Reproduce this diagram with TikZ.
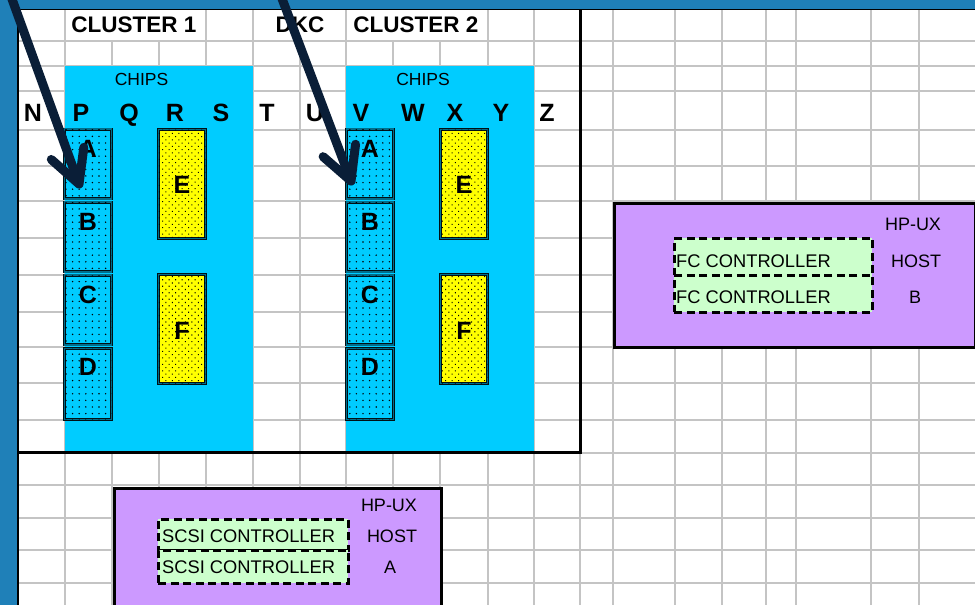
\documentclass[tikz,border=0pt]{standalone}
\usepackage{fontspec}
\setmainfont{Liberation Sans}
\usetikzlibrary{patterns.meta}
\definecolor{bandblue}{RGB}{31,128,184}
\definecolor{gridgray}{RGB}{196,196,196}
\definecolor{cyanbg}{RGB}{0,204,255}
\definecolor{chipyel}{RGB}{255,255,0}
\definecolor{chipedge}{RGB}{0,110,140}
\definecolor{hostpurple}{RGB}{204,153,255}
\definecolor{ctrlgreen}{RGB}{204,255,204}
\definecolor{arrownavy}{RGB}{10,30,55}
\begin{document}
\begin{tikzpicture}[x=1pt,y=-1pt,
  gridline/.style={draw=gridgray, line width=1.2pt},
  frameline/.style={draw=black, line width=3pt},
  chipblue/.style={draw=black!85!chipedge, line width=0.7pt, double=chipedge, double distance=1.8pt,
    fill=cyanbg, postaction={pattern={Dots[distance=6.6pt,radius=0.8pt]}, pattern color=black},
    inner sep=0pt, minimum width=47pt, minimum height=69.5pt},
  chipyellow/.style={draw=black!85!chipedge, line width=0.7pt, double=chipedge, double distance=1.8pt,
    fill=chipyel, postaction={pattern={Dots[distance=4.6pt,angle=45,radius=0.75pt]}, pattern color=black},
    inner sep=0pt, minimum width=47pt, minimum height=109pt},
  bigletter/.style={font=\fontsize{25}{28}\selectfont\bfseries, anchor=base, inner sep=0pt},
  titletext/.style={font=\fontsize{22.5}{26}\selectfont\bfseries, anchor=base, inner sep=0pt},
  chipstext/.style={font=\fontsize{17.5}{20}\selectfont, anchor=base, inner sep=0pt},
  smalltext/.style={font=\fontsize{18}{21}\selectfont, anchor=base, inner sep=0pt},
  ctrltext/.style={font=\fontsize{18.3}{21}\selectfont, anchor=base west, inner sep=0pt},
  hostbox/.style={draw=black, line width=3pt, fill=hostpurple, anchor=north west, inner sep=0pt},
  ctrlbox/.style={draw=black, line width=2.6pt, dash pattern=on 8pt off 4.5pt, fill=ctrlgreen,
    anchor=north west, inner sep=0pt},
  pointer/.style={draw=arrownavy, line width=9pt, line cap=round, line join=round}
]
\useasboundingbox (0,0) rectangle (975,605);
\fill[white] (0,0) rectangle (975,605);

% spreadsheet grid
\foreach \x in {65,112,159,206,253,300,346,393,440,488,534,580,613,675,722,766,796,871,919}
  \draw[gridline] (\x,41) -- (\x,605);
\foreach \x in {65,206,253,346,488,534,613,675,722,766,796,871,919}
  \draw[gridline] (\x,9) -- (\x,41);
\foreach \y in {41,66,91,130,166,201,238,275,312,347,383,420,453,485,518,550,583}
  \draw[gridline] (18,\y) -- (975,\y);

% chip areas
\fill[cyanbg] (65,66) rectangle (253,453);
\fill[cyanbg] (346,66) rectangle (534,453);

% window band and DKC frame
\fill[bandblue] (0,0) rectangle (975,9);
\fill[bandblue] (0,0) rectangle (16.5,605);
\draw[black, line width=1pt] (16.5,9.5) -- (975,9.5);
\draw[black, line width=2.5pt] (18,9) -- (18,605);
\draw[frameline] (18,452) -- (580.5,452) -- (580.5,9);

% titles
\node[titletext] (cl1) at (134,32.5) {CLUSTER 1};
\node[titletext] (dkc) at (300,32.5) {DKC};
\node[titletext] (cl2) at (416,32.5) {CLUSTER 2};
\node[chipstext] (chips1) at (141.5,85) {CHIPS};
\node[chipstext] (chips2) at (423,85) {CHIPS};

% column letters
\foreach \lt/\x in {N/33,P/81,Q/129,R/175,S/221,T/267,U/315,V/361,W/413,X/455,Y/501,Z/547}
  \node[bigletter] (col\lt) at (\x,121) {\lt};

% chips, cluster 1 and cluster 2
\foreach \k/\dx in {1/0,2/282}{
  \node[chipblue] (a\k) at (88+\dx,164) {};
  \node[chipblue] (b\k) at (88+\dx,237) {};
  \node[chipblue] (c\k) at (88+\dx,310) {};
  \node[chipblue, minimum height=71pt] (d\k) at (88+\dx,384) {};
  \node[chipyellow] (e\k) at (182+\dx,184) {};
  \node[chipyellow] (f\k) at (182+\dx,329) {};
  \node[bigletter] (la\k) at (88+\dx,157) {A};
  \node[bigletter] (lb\k) at (88+\dx,230) {B};
  \node[bigletter] (lc\k) at (88+\dx,303) {C};
  \node[bigletter] (ld\k) at (88+\dx,375) {D};
  \node[bigletter] (le\k) at (182+\dx,193) {E};
  \node[bigletter] (lf\k) at (182+\dx,339) {F};
}

% host B
\node[hostbox, minimum width=361pt, minimum height=144pt] (hostB) at (612.5,201.5) {};
\node[ctrlbox, minimum width=198pt, minimum height=37pt] (fc1) at (673,237) {};
\node[ctrlbox, minimum width=198pt, minimum height=37pt] (fc2) at (673,274) {};
\node[ctrltext] (fc1t) at (676,267) {FC CONTROLLER};
\node[ctrltext] (fc2t) at (676,303) {FC CONTROLLER};
\node[smalltext] (hbx1) at (913,230) {HP-UX};
\node[smalltext] (hbx2) at (916,267) {HOST};
\node[smalltext] (hbx3) at (915,303) {B};

% host A
\node[hostbox, minimum width=327pt, minimum height=140pt] (hostA) at (112.5,486.5) {};
\node[ctrlbox, minimum width=190pt, minimum height=31pt] (sc1) at (157,518) {};
\node[ctrlbox, minimum width=190pt, minimum height=33pt] (sc2) at (157,549) {};
\node[ctrltext] (sc1t) at (162,542) {SCSI CONTROLLER};
\node[ctrltext] (sc2t) at (162,573) {SCSI CONTROLLER};
\node[smalltext] (hax1) at (389,511) {HP-UX};
\node[smalltext] (hax2) at (392,542) {HOST};
\node[smalltext] (hax3) at (390,573) {A};

% pointer arrows
\coordinate (p1s) at (8,-12);
\coordinate (p1t) at (79,184);
\coordinate (p2s) at (278,-12);
\coordinate (p2t) at (351,181);
\draw[pointer] (p1s) -- (p1t);
\draw[pointer] (p1t) ++(-138.5:37) -- (p1t) -- ++(-82.5:37);
\draw[pointer] (p2s) -- (p2t);
\draw[pointer] (p2t) ++(-138.9:37) -- (p2t) -- ++(-82.9:37);
\end{tikzpicture}
\end{document}
